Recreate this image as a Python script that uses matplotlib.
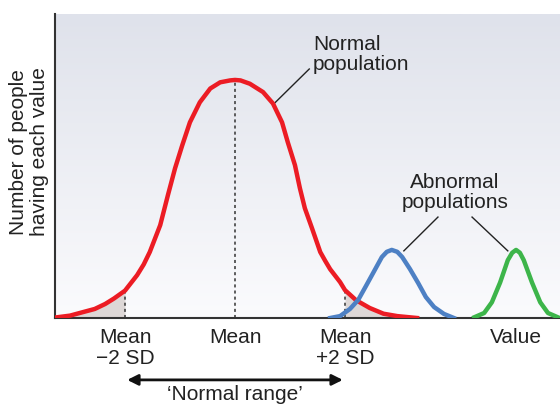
import numpy as np
import matplotlib.pyplot as plt
from matplotlib.colors import LinearSegmentedColormap

plt.rcParams['font.family'] = ['Liberation Sans', 'DejaVu Sans']

# curves (x in SD units from the mean, y relative to the normal peak)
normal_x = [-3.27, -3.0, -2.76, -2.55, -2.36, -2.2, -2.0, -1.78, -1.66, -1.55, -1.36, -1.22, -1.09,
            -0.96, -0.82, -0.64, -0.45, -0.27, -0.09, 0.0, 0.1, 0.27, 0.51, 0.69, 0.855, 0.96, 1.09,
            1.18, 1.27, 1.40, 1.55, 1.64, 1.73, 1.91, 2.0, 2.2, 2.45, 2.7, 2.95, 3.31]
normal_y = [0.002, 0.01, 0.025, 0.038, 0.059, 0.082, 0.115, 0.180, 0.225, 0.277, 0.390, 0.516, 0.629,
            0.725, 0.822, 0.906, 0.964, 0.990, 0.998, 1.0, 0.998, 0.984, 0.949, 0.901, 0.822, 0.738,
            0.642, 0.545, 0.461, 0.377, 0.277, 0.240, 0.205, 0.151, 0.117, 0.075, 0.042, 0.018,
            0.008, 0.0]

abn1_x = [1.73, 1.91, 2.09, 2.24, 2.38, 2.53, 2.67, 2.76, 2.85, 2.95, 3.04, 3.18, 3.33, 3.47, 3.62, 3.80, 3.98]
abn1_y = [0.0, 0.008, 0.038, 0.076, 0.134, 0.197, 0.256, 0.278, 0.286, 0.278, 0.256, 0.206, 0.147, 0.088,
          0.046, 0.017, 0.0]

abn2_x = [4.35, 4.53, 4.67, 4.82, 4.96, 5.04, 5.11, 5.18, 5.25, 5.40, 5.55, 5.69, 5.87]
abn2_y = [0.003, 0.021, 0.066, 0.149, 0.243, 0.274, 0.286, 0.274, 0.243, 0.149, 0.066, 0.021, 0.003]

tick_pos = [-2.0, 0.0, 2.0, 5.11]
tick_labels = ['Mean\n\u22122 SD', 'Mean', 'Mean\n+2 SD', 'Value']

fs = 15
fig = plt.figure(figsize=(5.6, 4.04), dpi=100)
ax = fig.add_axes([55 / 560, 86 / 404, 505 / 560, 304 / 404])
xmin, xmax, ymin, ymax = -3.273, 5.909, 0, 1.277

# background gradient
cmap = LinearSegmentedColormap.from_list('bg', ['#fbfbfd', '#dfe2eb'])
grad = np.linspace(0, 1, 256).reshape(-1, 1)
ax.imshow(grad, cmap=cmap, extent=[xmin, xmax, ymin, ymax], origin='lower',
          aspect='auto', zorder=0)

nx = np.array(normal_x)
ny = np.array(normal_y)
left = nx <= -2.0
right = nx >= 2.0
ax.fill_between(nx[left], 0, ny[left], color='#ddd7d6', lw=0, zorder=1)
ax.fill_between(nx[right], 0, ny[right], color='#ddd7d6', lw=0, zorder=1)

for p in [-2.0, 0.0, 2.0]:
    ax.plot([p, p], [0, ny[nx == p][0]], color='#333333', lw=1.1, ls=(0, (2, 2)), zorder=2)

ax.plot(nx, ny, color='#ec1c24', lw=3.2, solid_joinstyle='round', zorder=3)
ax.plot(abn1_x, abn1_y, color='#4d80c4', lw=3.2, solid_joinstyle='round', zorder=4)
ax.plot(abn2_x, abn2_y, color='#3db54a', lw=3.2, solid_joinstyle='round', zorder=4)

# labels and leader lines
ax.text(1.42, 1.19, 'Normal\npopulation', fontsize=fs, color='#222222', ha='left', va='top',
        linespacing=1.1)
ax.plot([1.35, 0.73], [1.046, 0.905], color='#222222', lw=1)
ax.text(4.0, 0.61, 'Abnormal\npopulations', fontsize=fs, color='#222222', ha='center', va='top',
        linespacing=1.1)
ax.plot([3.69, 3.07], [0.424, 0.282], color='#222222', lw=1)
ax.plot([4.31, 4.96], [0.424, 0.282], color='#222222', lw=1)

ax.annotate('', xy=(-1.96, -0.26), xytext=(1.96, -0.26), annotation_clip=False,
            arrowprops=dict(arrowstyle='<|-|>', color='#111111', lw=2, mutation_scale=16,
                            shrinkA=0, shrinkB=0))
ax.text(0, -0.283, '\u2018Normal range\u2019', fontsize=fs, color='#222222', ha='center', va='top',
        clip_on=False)

ax.set_xlim(xmin, xmax)
ax.set_ylim(ymin, ymax)
ax.set_xticks(tick_pos)
ax.set_xticklabels(tick_labels, fontsize=fs, color='#222222', linespacing=1.12)
ax.tick_params(axis='x', length=0, pad=7)
ax.set_yticks([])
for s in ['top', 'right']:
    ax.spines[s].set_visible(False)
for s in ['left', 'bottom']:
    ax.spines[s].set_color('#333333')
    ax.spines[s].set_linewidth(1.5)

fig.text(29 / 560, 1 - 152 / 404, 'Number of people\nhaving each value', rotation=90,
         fontsize=fs, color='#222222', ha='center', va='center', linespacing=1.12)

fig.savefig('out.png', dpi=100)
